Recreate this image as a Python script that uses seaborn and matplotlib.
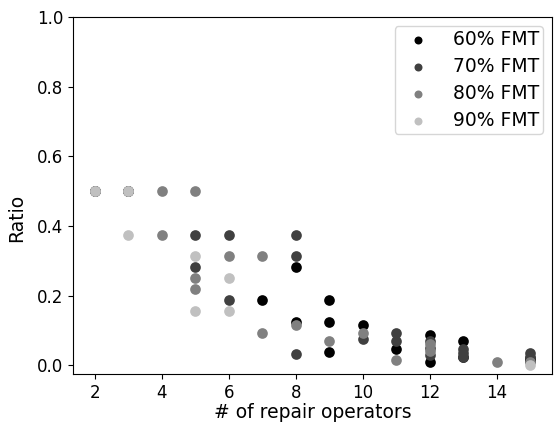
import matplotlib
matplotlib.use("Agg")
import matplotlib.pyplot as plt
import seaborn as sns
import pandas as pd

series_labels = ["60% FMT", "70% FMT", "80% FMT", "90% FMT"]
series_colors = ["#000000", "#404040", "#808080", "#c0c0c0"]

x60 = [2, 3, 8, 8, 7, 9, 9, 9, 10, 11, 12, 12, 13, 13, 15, 15]
y60 = [0.5, 0.5, 0.28125, 0.125, 0.1875, 0.1875, 0.125, 0.0375, 0.117, 0.048,
       0.088, 0.009, 0.069, 0.025, 0.012, 0.02]

x70 = [2, 3, 5, 5, 6, 6, 8, 8, 8, 10, 11, 11, 12, 12, 12, 13, 13, 13, 15, 15]
y70 = [0.5, 0.5, 0.375, 0.28125, 0.375, 0.1875, 0.375, 0.3125, 0.03125, 0.076,
       0.092, 0.069, 0.07, 0.05, 0.03, 0.047, 0.036, 0.025, 0.036, 0.024]

x80 = [2, 3, 4, 4, 5, 5, 5, 6, 7, 7, 8, 9, 10, 11, 12, 12, 14, 15]
y80 = [0.5, 0.5, 0.5, 0.375, 0.5, 0.25, 0.21875, 0.3125, 0.3125, 0.09375,
       0.117, 0.069, 0.092, 0.016, 0.06, 0.04, 0.009, 0.01]

x90 = [2, 3, 3, 5, 5, 6, 6, 15]
y90 = [0.5, 0.5, 0.375, 0.3125, 0.15625, 0.25, 0.15625, 0.0]

xs = [x60, x70, x80, x90]
ys = [y60, y70, y80, y90]

rows = []
for lab, xv, yv in zip(series_labels, xs, ys):
    for a, b in zip(xv, yv):
        rows.append({"ops": a, "ratio": b, "series": lab})
df = pd.DataFrame(rows)

fig = plt.figure(figsize=(5.54, 4.24), dpi=100)
ax = fig.add_axes([73 / 554, 50 / 424, 479 / 554, 357 / 424])

for lab, col in zip(series_labels, series_colors):
    sub = df[df["series"] == lab]
    sns.scatterplot(data=sub, x="ops", y="ratio", color=col, label=lab,
                    s=59, linewidth=0, ax=ax)

ax.set_ylim(top=1.0)
ax.set_xticks([2, 4, 6, 8, 10, 12, 14])
ax.set_yticks([0.0, 0.2, 0.4, 0.6, 0.8, 1.0])
ax.tick_params(labelsize=12)
ax.set_xlabel("# of repair operators", fontsize=13.5, labelpad=1)
ax.set_ylabel("Ratio", fontsize=13.5)
ax.yaxis.set_label_coords(-0.098, 0.437)
ax.legend(loc="upper right", fontsize=13.5, markerscale=0.75,
          labelspacing=0.43, borderpad=0.2, borderaxespad=0.5,
          handlelength=2.1)

fig.savefig("out.png", dpi=100)
